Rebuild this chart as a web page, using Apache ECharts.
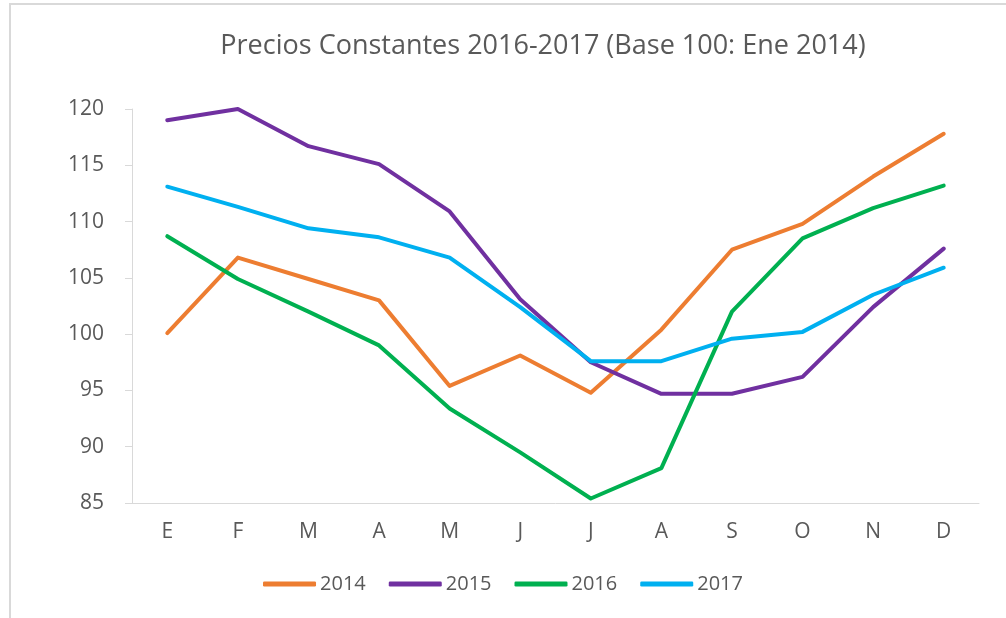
<!DOCTYPE html>
<html>
<head>
<meta charset="utf-8">
<script src="https://cdn.jsdelivr.net/npm/echarts@6/dist/echarts.min.js"></script>
<style>
  html, body { margin: 0; padding: 0; background: #fff; }
  #main { width: 1006px; height: 618px; }
</style>
</head>
<body>
<div id="main"></div>
<script>
// meses
var meses = ['E', 'F', 'M', 'A', 'M', 'J', 'J', 'A', 'S', 'O', 'N', 'D'];
// series por año
var serie2014 = [100.1, 106.8, 104.9, 103.0, 95.4, 98.1, 94.8, 100.4, 107.5, 109.8, 114.0, 117.8];
var serie2015 = [119.0, 120.0, 116.7, 115.1, 110.9, 103.1, 97.5, 94.7, 94.7, 96.2, 102.4, 107.6];
var serie2016 = [108.7, 104.9, 102.0, 99.0, 93.4, 89.5, 85.4, 88.1, 102.0, 108.5, 111.2, 113.2];
var serie2017 = [113.1, 111.3, 109.4, 108.6, 106.8, 102.4, 97.6, 97.6, 99.6, 100.2, 103.5, 105.9];
var anios = ['2014', '2015', '2016', '2017'];
var colores = ['#ED7D31', '#7030A0', '#00B050', '#00B0F0'];

var fuente = 'Open Sans';
var gris = '#595959';

var myChart = echarts.init(document.getElementById('main'));

function linea(nombre, datos, color) {
    return {
        name: nombre,
        type: 'line',
        data: datos,
        symbol: 'none',
        lineStyle: { width: 4, color: color, cap: 'round', join: 'round' },
        itemStyle: { color: color },
        animation: false
    };
}

var option = {
    backgroundColor: '#fff',
    title: {
        text: 'Precios Constantes 2016-2017 (Base 100: Ene 2014)',
        left: 538,
        textAlign: 'center',
        top: 28,
        textStyle: { fontFamily: fuente, fontSize: 27, fontWeight: 'normal', color: gris }
    },
    graphic: [{
        type: 'rect',
        shape: { x: 10, y: 4, width: 1100, height: 700 },
        style: { fill: 'none', stroke: '#d9d9d9', lineWidth: 2 },
        silent: true
    }],
    legend: {
        data: anios,
        bottom: 19,
        left: 'center',
        itemWidth: 53,
        itemHeight: 5,
        itemGap: 23,
        icon: 'roundRect',
        textStyle: { fontFamily: fuente, fontSize: 20, color: gris, padding: [0, 0, 0, -1] }
    },
    grid: { left: 132, right: 27, top: 109, bottom: 115 },
    xAxis: {
        type: 'category',
        data: meses,
        boundaryGap: true,
        axisLine: { lineStyle: { color: '#d9d9d9', width: 1 } },
        axisTick: { show: false },
        axisLabel: { fontFamily: fuente, fontSize: 21, color: gris, margin: 19 }
    },
    yAxis: {
        type: 'value',
        min: 85,
        max: 120,
        interval: 5,
        axisLine: { show: true, lineStyle: { color: '#d9d9d9', width: 1 } },
        axisTick: { show: true, length: 7, lineStyle: { color: '#d9d9d9' } },
        splitLine: { show: false },
        axisLabel: { fontFamily: fuente, fontSize: 21, color: gris, margin: 28 }
    },
    series: [
        linea(anios[0], serie2014, colores[0]),
        linea(anios[1], serie2015, colores[1]),
        linea(anios[2], serie2016, colores[2]),
        linea(anios[3], serie2017, colores[3])
    ]
};

myChart.setOption(option);
</script>
</body>
</html>
